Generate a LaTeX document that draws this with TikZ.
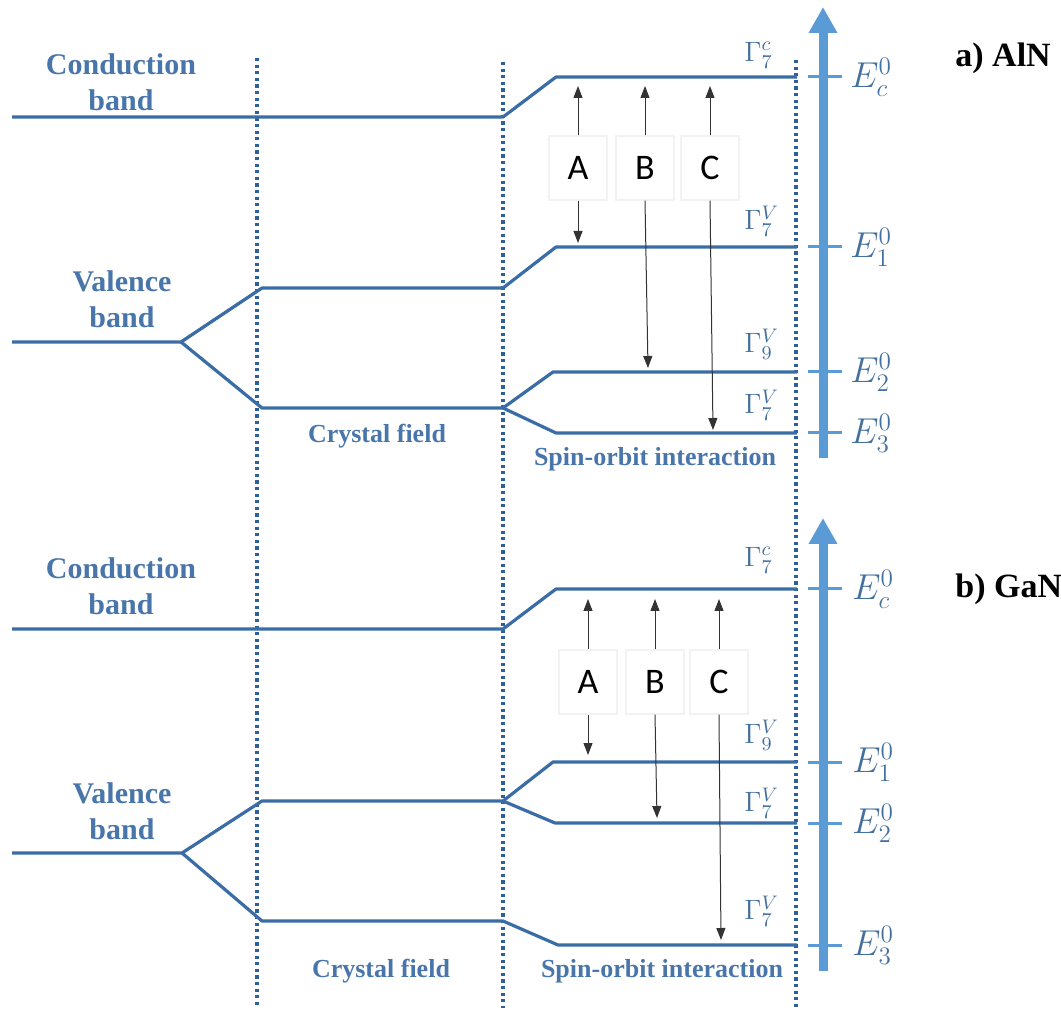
\RequirePackage{fix-cm}
\documentclass[tikz,border=0pt]{standalone}
\usepackage{fontspec}
\setmainfont{Liberation Serif}
\newfontfamily\abcfont{Carlito}
\usetikzlibrary{arrows.meta}
\definecolor{bandblue}{HTML}{3A6CA6}
\definecolor{dotblue}{HTML}{2F5F98}
\definecolor{textblue}{HTML}{4976AA}
\definecolor{axisblue}{HTML}{5B9BD5}
\definecolor{labelblue}{HTML}{43709F}
\tikzset{
  band/.style={draw=bandblue, line width=1.6pt, line join=round},
  sepline/.style={draw=dotblue, line width=2pt, dash pattern=on 1.6pt off 1.7pt},
  axisarrow/.style={draw=axisblue, line width=4.5pt, -{Triangle[width=13.5pt,length=13pt]}},
  tickmark/.style={draw=axisblue, line width=1.5pt},
  trans/.style={draw=black!80, line width=0.5pt, -{Triangle[width=4.5pt,length=6pt]}},
  letterbox/.style={draw=black!5, fill=white, line width=0.6pt, minimum width=29pt, minimum height=32pt, inner sep=0, font=\abcfont\fontsize{18}{20}\selectfont},
  bandlabel/.style={text=textblue, font=\bfseries\fontsize{15}{18}\selectfont, align=center},
  regionlabel/.style={text=textblue, font=\bfseries\fontsize{13}{15}\selectfont},
  gam/.style={text=labelblue, anchor=west, inner sep=0, font=\fontsize{14}{16}\selectfont},
  elab/.style={text=labelblue, anchor=west, inner sep=0, font=\fontsize{18}{20}\selectfont},
  paneltitle/.style={font=\bfseries\fontsize{17}{20}\selectfont, anchor=base west, inner sep=0}
}
\begin{document}
\begin{tikzpicture}[x=0.5pt,y=-0.5pt]
\useasboundingbox (0,0) rectangle (1061,1010);

% separators
\coordinate (s1t) at (257,58);  \coordinate (s1b) at (257,1008);
\coordinate (s2t) at (503,62);  \coordinate (s2b) at (503,1008);
\coordinate (s3t) at (796,60);  \coordinate (s3b) at (796,1008);
\draw[sepline] (s1t) -- (s1b);
\draw[sepline] (s2t) -- (s2b);
\draw[sepline] (s3t) -- (s3b);

% ===== a) AlN =====
\coordinate (ac0) at (12,117);  \coordinate (ac1) at (503,117);
\coordinate (ac2) at (556,77);  \coordinate (ac3) at (797,77);
\draw[band] (ac0) -- (ac1) -- (ac2) -- (ac3);
\coordinate (av0) at (12,342);  \coordinate (avs) at (181,342);
\coordinate (au1) at (262,288); \coordinate (au2) at (503,288);
\coordinate (au3) at (556,247); \coordinate (au4) at (797,247);
\coordinate (al1) at (262,408); \coordinate (al2) at (503,408);
\coordinate (a91) at (553,372); \coordinate (a92) at (797,372);
\coordinate (a71) at (556,433); \coordinate (a72) at (797,433);
\draw[band] (av0) -- (avs) -- (au1) -- (au2) -- (au3) -- (au4);
\draw[band] (avs) -- (al1) -- (al2) -- (a91) -- (a92);
\draw[band] (al2) -- (a71) -- (a72);

\coordinate (aax0) at (823,458); \coordinate (aax1) at (823,7);
\draw[axisarrow] (aax0) -- (aax1);
\foreach \yy/\nm in {77/EC,247/E1,372/E2,433/E3}{
  \coordinate (at\nm a) at (808,\yy); \coordinate (at\nm b) at (842,\yy);
  \draw[tickmark] (at\nm a) -- (at\nm b);
}
\node[elab] (aEC) at (850,77)  {$E_c^0$};
\node[elab] (aE1) at (850,247) {$E_1^0$};
\node[elab] (aE2) at (850,372) {$E_2^0$};
\node[elab] (aE3) at (850,433) {$E_3^0$};
\node[gam] (aG1) at (744,55)  {$\Gamma_7^c$};
\node[gam] (aG2) at (744,221) {$\Gamma_7^V$};
\node[gam] (aG3) at (744,344) {$\Gamma_9^V$};
\node[gam] (aG4) at (744,405) {$\Gamma_7^V$};

\node[letterbox] (aA) at (578,168) {A};
\node[letterbox] (aB) at (645,168) {B};
\node[letterbox] (aC) at (710,168) {C};
\coordinate (aAu) at (578,86);  \coordinate (aAd) at (578,243);
\coordinate (aBu) at (645,86);  \coordinate (aBd) at (648,368);
\coordinate (aCu) at (710,86);  \coordinate (aCd) at (713,430);
\draw[trans] (aA.north) -- (aAu);
\draw[trans] (aA.south) -- (aAd);
\draw[trans] (aB.north) -- (aBu);
\draw[trans] (aB.south) -- (aBd);
\draw[trans] (aC.north) -- (aCu);
\draw[trans] (aC.south) -- (aCd);

\node[bandlabel] (acb) at (121,82)  {Conduction\\band};
\node[bandlabel] (avb) at (122,299) {Valence\\band};
\node[regionlabel] (acf) at (377,436) {Crystal field};
\node[regionlabel] (aso) at (655,459) {Spin-orbit interaction};
\node[paneltitle] (atitle) at (955,67) {a) AlN};

% ===== b) GaN =====
\coordinate (bc0) at (12,629);  \coordinate (bc1) at (503,629);
\coordinate (bc2) at (556,589); \coordinate (bc3) at (797,589);
\draw[band] (bc0) -- (bc1) -- (bc2) -- (bc3);
\coordinate (bv0) at (12,853);  \coordinate (bvs) at (182,853);
\coordinate (bu1) at (262,801); \coordinate (bu2) at (503,801);
\coordinate (b91) at (553,762); \coordinate (b92) at (797,762);
\coordinate (b71) at (555,823); \coordinate (b72) at (797,823);
\coordinate (bl1) at (262,921); \coordinate (bl2) at (503,921);
\coordinate (bl3) at (558,945); \coordinate (bl4) at (797,945);
\draw[band] (bv0) -- (bvs) -- (bu1) -- (bu2) -- (b91) -- (b92);
\draw[band] (bu2) -- (b71) -- (b72);
\draw[band] (bvs) -- (bl1) -- (bl2) -- (bl3) -- (bl4);

\coordinate (bax0) at (823,971); \coordinate (bax1) at (823,518);
\draw[axisarrow] (bax0) -- (bax1);
\foreach \yy/\nm in {589/EC,762/E1,823/E2,945/E3}{
  \coordinate (bt\nm a) at (808,\yy); \coordinate (bt\nm b) at (842,\yy);
  \draw[tickmark] (bt\nm a) -- (bt\nm b);
}
\node[elab] (bEC) at (852,589) {$E_c^0$};
\node[elab] (bE1) at (852,762) {$E_1^0$};
\node[elab] (bE2) at (852,823) {$E_2^0$};
\node[elab] (bE3) at (852,945) {$E_3^0$};
\node[gam] (bG1) at (744,560) {$\Gamma_7^c$};
\node[gam] (bG2) at (744,735) {$\Gamma_9^V$};
\node[gam] (bG3) at (744,803) {$\Gamma_7^V$};
\node[gam] (bG4) at (744,911) {$\Gamma_7^V$};

\node[letterbox] (bA) at (588,682) {A};
\node[letterbox] (bB) at (655,682) {B};
\node[letterbox] (bC) at (719,682) {C};
\coordinate (bAu) at (588,599); \coordinate (bAd) at (588,755);
\coordinate (bBu) at (655,599); \coordinate (bBd) at (657,818);
\coordinate (bCu) at (719,599); \coordinate (bCd) at (721,940);
\draw[trans] (bA.north) -- (bAu);
\draw[trans] (bA.south) -- (bAd);
\draw[trans] (bB.north) -- (bBu);
\draw[trans] (bB.south) -- (bBd);
\draw[trans] (bC.north) -- (bCu);
\draw[trans] (bC.south) -- (bCd);

\node[bandlabel] (bcb) at (121,586) {Conduction\\band};
\node[bandlabel] (bvb) at (122,811) {Valence\\band};
\node[regionlabel] (bcf) at (381,971) {Crystal field};
\node[regionlabel] (bso) at (662,971) {Spin-orbit interaction};
\node[paneltitle] (btitle) at (955,597) {b) GaN};
\end{tikzpicture}
\end{document}
